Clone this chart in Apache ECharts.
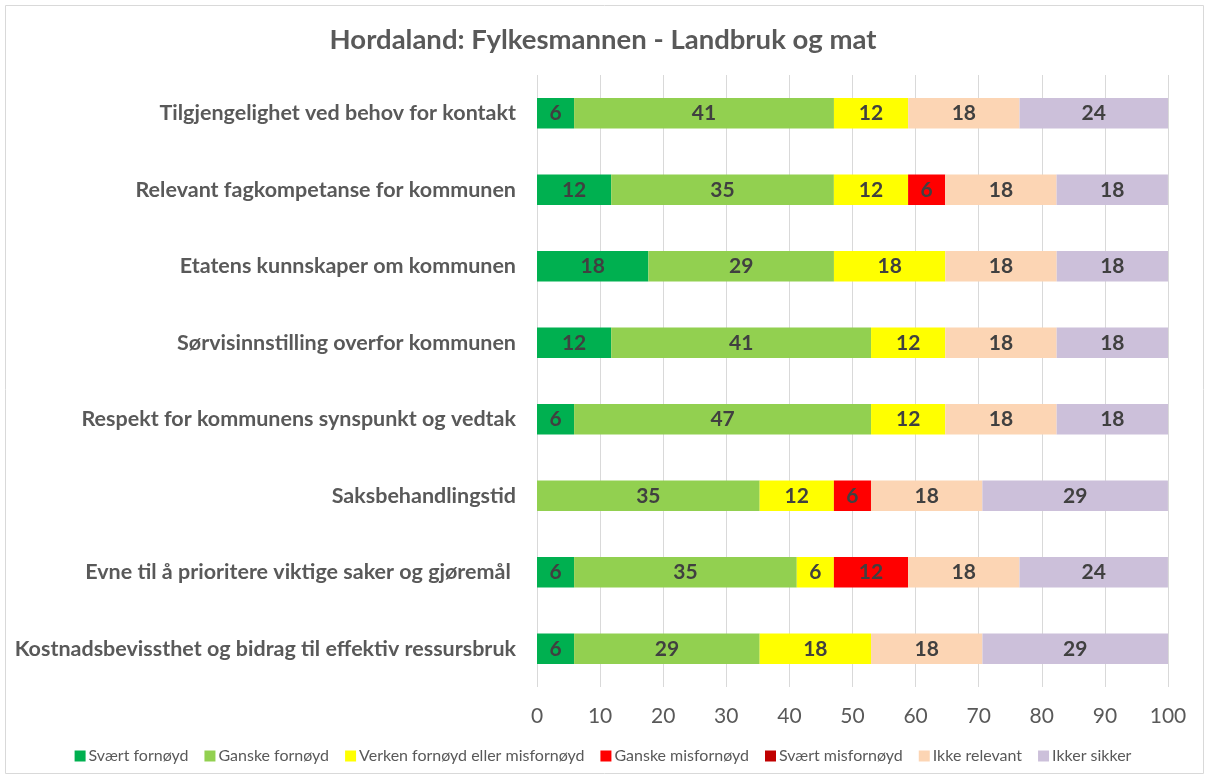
<!DOCTYPE html>
<html><head><meta charset="utf-8">
<script src="https://cdn.jsdelivr.net/npm/echarts@6/dist/echarts.min.js"></script>
<style>html,body{margin:0;padding:0;background:#fff}#c{width:1206px;height:776px}</style>
</head><body><div id="c"></div>
<script>
const categories = [
  "Tilgjengelighet ved behov for kontakt",
  "Relevant fagkompetanse for kommunen",
  "Etatens kunnskaper om kommunen",
  "Sørvisinnstilling overfor kommunen",
  "Respekt for kommunens synspunkt og vedtak",
  "Saksbehandlingstid",
  "Evne til å prioritere viktige saker og gjøremål ",
  "Kostnadsbevissthet og bidrag til effektiv ressursbruk"
];
const seriesNames = ["Svært fornøyd","Ganske fornøyd","Verken fornøyd eller misfornøyd","Ganske misfornøyd","Svært misfornøyd","Ikke relevant","Ikker sikker"];
const svaertFornoyd   = [5.88, 11.76, 17.65, 11.76, 5.88, null, 5.88, 5.88];
const ganskeFornoyd   = [41.18, 35.29, 29.41, 41.18, 47.06, 35.29, 35.29, 29.41];
const verken          = [11.76, 11.76, 17.65, 11.76, 11.76, 11.76, 5.88, 17.65];
const ganskeMisfornoyd= [null, 5.88, null, null, null, 5.88, 11.76, null];
const svaertMisfornoyd= [null, null, null, null, null, null, null, null];
const ikkeRelevant    = [17.65, 17.65, 17.65, 17.65, 17.65, 17.65, 17.65, 17.65];
const ikkerSikker     = [23.53, 17.65, 17.65, 17.65, 17.65, 29.41, 23.53, 29.41];
const xTicks = [0,10,20,30,40,50,60,70,80,90,100];

const colors = ["#00b050","#92d050","#ffff00","#ff0000","#c00000","#fcd5b4","#ccc0da"];
const dataSets = [svaertFornoyd, ganskeFornoyd, verken, ganskeMisfornoyd, svaertMisfornoyd, ikkeRelevant, ikkerSikker];
const FONT = "Lato, 'Open Sans', sans-serif";

const chart = echarts.init(document.getElementById('c'));
chart.setOption({
  animation: false,
  color: colors,
  title: {
    text: "Hordaland: Fylkesmannen - Landbruk og mat",
    left: 'center', top: 21,
    textStyle: {fontFamily: FONT, fontSize: 27.5, fontWeight: 'bold', color: '#595959'}
  },
  legend: {
    bottom: 7, left: 'center', itemWidth: 11, itemHeight: 11, itemGap: 16,
    icon: 'rect',
    textStyle: {fontFamily: FONT, fontSize: 16, color: '#595959', padding: [0,0,0,-2]},
    data: seriesNames
  },
  graphic: [{type:'rect', shape:{x:5.5,y:5.5,width:1198,height:768}, style:{fill:'none', stroke:'#d9d9d9', lineWidth:1}, silent:true}],
  grid: {left: 537, right: 38, top: 75, bottom: 89, containLabel: false},
  xAxis: {
    type: 'value', min: 0, max: 100, interval: 10,
    axisLine: {show: false}, axisTick: {show: false},
    splitLine: {show: true, lineStyle: {color: '#d9d9d9', width: 1}},
    axisLabel: {fontFamily: FONT, fontSize: 21, color: '#595959', margin: 19,
      formatter: v => xTicks.includes(v) ? String(v) : ''}
  },
  yAxis: {
    type: 'category', data: categories, inverse: true,
    axisLine: {show: false}, axisTick: {show: false},
    axisLabel: {fontFamily: FONT, fontSize: 21.5, fontWeight: 'bold', color: '#595959', margin: 21}
  },
  series: seriesNames.map((n, i) => ({
    name: n, type: 'bar', stack: 'total', data: dataSets[i],
    barCategoryGap: '60%',
    itemStyle: {color: colors[i]},
    label: {show: true, position: 'inside', fontFamily: FONT, fontSize: 21, fontWeight: 'bold', color: '#404040',
      formatter: p => (p.value == null ? '' : String(Math.round(p.value)))}
  }))
});
</script></body></html>
